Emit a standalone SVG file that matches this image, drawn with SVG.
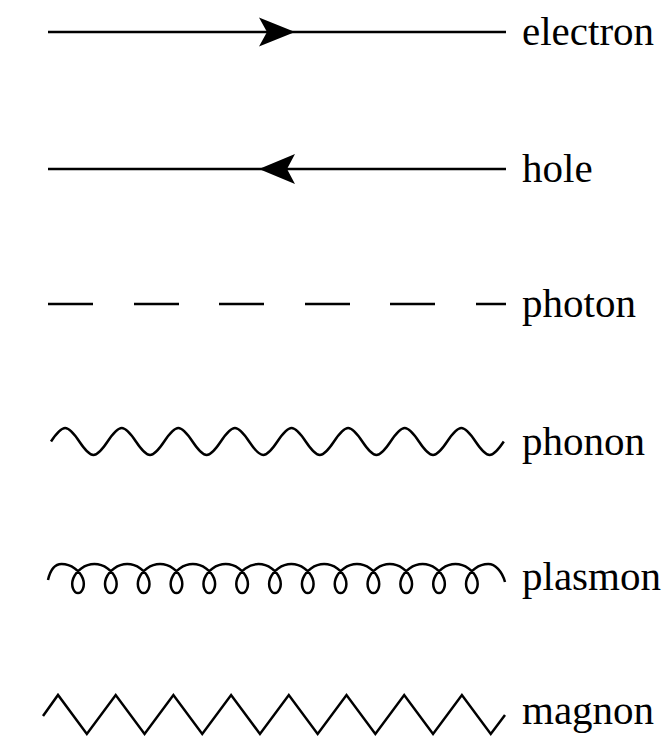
<svg xmlns="http://www.w3.org/2000/svg" width="671" height="737" viewBox="0 0 671 737">
<style>
.ln{fill:none;stroke:#000;stroke-width:2.5;stroke-linejoin:miter;stroke-linecap:butt}
.ar{fill:#000;stroke:none}
.lb{font-family:"Liberation Serif","Times New Roman",serif;font-size:41px;fill:#000}
</style>
<rect width="671" height="737" fill="#fff"/>
<g id="electron">
<line class="ln" x1="48" y1="32" x2="506" y2="32"/>
<path class="ar" d="M295,32 L259,17.5 L267,32 L259,46.5 Z"/>
<text class="lb" x="522" y="45">electron</text>
</g>
<g id="hole">
<line class="ln" x1="48" y1="169" x2="506" y2="169"/>
<path class="ar" d="M259,169 L295,154 L287,169 L295,184 Z"/>
<text class="lb" x="522" y="182">hole</text>
</g>
<g id="photon">
<path class="ln" d="M48,304H93M134,304H179M219,304H264M305,304H350M390,304H435M476,304H506"/>
<text class="lb" x="522" y="317">photon</text>
</g>
<g id="phonon">
<path class="ln" d="M51,441.5
c4.72,-7.07 9.43,-13.5 14.15,-13.5 c4.72,0 9.43,6.43 14.15,13.5 c4.72,7.07 9.43,13.5 14.15,13.5 c4.72,0 9.43,-6.43 14.15,-13.5
c4.72,-7.07 9.43,-13.5 14.15,-13.5 c4.72,0 9.43,6.43 14.15,13.5 c4.72,7.07 9.43,13.5 14.15,13.5 c4.72,0 9.43,-6.43 14.15,-13.5
c4.72,-7.07 9.43,-13.5 14.15,-13.5 c4.72,0 9.43,6.43 14.15,13.5 c4.72,7.07 9.43,13.5 14.15,13.5 c4.72,0 9.43,-6.43 14.15,-13.5
c4.72,-7.07 9.43,-13.5 14.15,-13.5 c4.72,0 9.43,6.43 14.15,13.5 c4.72,7.07 9.43,13.5 14.15,13.5 c4.72,0 9.43,-6.43 14.15,-13.5
c4.72,-7.07 9.43,-13.5 14.15,-13.5 c4.72,0 9.43,6.43 14.15,13.5 c4.72,7.07 9.43,13.5 14.15,13.5 c4.72,0 9.43,-6.43 14.15,-13.5
c4.72,-7.07 9.43,-13.5 14.15,-13.5 c4.72,0 9.43,6.43 14.15,13.5 c4.72,7.07 9.43,13.5 14.15,13.5 c4.72,0 9.43,-6.43 14.15,-13.5
c4.72,-7.07 9.43,-13.5 14.15,-13.5 c4.72,0 9.43,6.43 14.15,13.5 c4.72,7.07 9.43,13.5 14.15,13.5 c4.72,0 9.43,-6.43 14.15,-13.5
c4.72,-7.07 9.43,-13.5 14.15,-13.5 c4.72,0 9.43,6.43 14.15,13.5 c4.72,7.07 9.43,13.5 14.15,13.5 c4.72,0 9.43,-6.43 14.15,-13.5"/>
<text class="lb" x="522" y="455">phonon</text>
</g>
<g id="plasmon">
<path class="ln" d="M48,580 C50.5,569 55,564 61.6,564
c9.54,0 18.47,6.91 21.21,14.5 c2.74,7.59 -0.72,14.5 -4.8,14.5 c-4.07,0 -7.53,-6.91 -4.8,-14.5 c2.74,-7.59 11.67,-14.5 21.21,-14.5
c9.54,0 18.47,6.91 21.21,14.5 c2.74,7.59 -0.72,14.5 -4.8,14.5 c-4.07,0 -7.53,-6.91 -4.8,-14.5 c2.74,-7.59 11.67,-14.5 21.21,-14.5
c9.54,0 18.47,6.91 21.21,14.5 c2.74,7.59 -0.72,14.5 -4.8,14.5 c-4.07,0 -7.53,-6.91 -4.8,-14.5 c2.74,-7.59 11.67,-14.5 21.21,-14.5
c9.54,0 18.47,6.91 21.21,14.5 c2.74,7.59 -0.72,14.5 -4.8,14.5 c-4.07,0 -7.53,-6.91 -4.8,-14.5 c2.74,-7.59 11.67,-14.5 21.21,-14.5
c9.54,0 18.47,6.91 21.21,14.5 c2.74,7.59 -0.72,14.5 -4.8,14.5 c-4.07,0 -7.53,-6.91 -4.8,-14.5 c2.74,-7.59 11.67,-14.5 21.21,-14.5
c9.54,0 18.47,6.91 21.21,14.5 c2.74,7.59 -0.72,14.5 -4.8,14.5 c-4.07,0 -7.53,-6.91 -4.8,-14.5 c2.74,-7.59 11.67,-14.5 21.21,-14.5
c9.54,0 18.47,6.91 21.21,14.5 c2.74,7.59 -0.72,14.5 -4.8,14.5 c-4.07,0 -7.53,-6.91 -4.8,-14.5 c2.74,-7.59 11.67,-14.5 21.21,-14.5
c9.54,0 18.47,6.91 21.21,14.5 c2.74,7.59 -0.72,14.5 -4.8,14.5 c-4.07,0 -7.53,-6.91 -4.8,-14.5 c2.74,-7.59 11.67,-14.5 21.21,-14.5
c9.54,0 18.47,6.91 21.21,14.5 c2.74,7.59 -0.72,14.5 -4.8,14.5 c-4.07,0 -7.53,-6.91 -4.8,-14.5 c2.74,-7.59 11.67,-14.5 21.21,-14.5
c9.54,0 18.47,6.91 21.21,14.5 c2.74,7.59 -0.72,14.5 -4.8,14.5 c-4.07,0 -7.53,-6.91 -4.8,-14.5 c2.74,-7.59 11.67,-14.5 21.21,-14.5
c9.54,0 18.47,6.91 21.21,14.5 c2.74,7.59 -0.72,14.5 -4.8,14.5 c-4.07,0 -7.53,-6.91 -4.8,-14.5 c2.74,-7.59 11.67,-14.5 21.21,-14.5
c9.54,0 18.47,6.91 21.21,14.5 c2.74,7.59 -0.72,14.5 -4.8,14.5 c-4.07,0 -7.53,-6.91 -4.8,-14.5 c2.74,-7.59 11.67,-14.5 21.21,-14.5
c9.54,0 18.47,6.91 21.21,14.5 c2.74,7.59 -0.72,14.5 -4.8,14.5 c-4.07,0 -7.53,-6.91 -4.8,-14.5 c2.74,-7.59 11.67,-14.5 21.21,-14.5
C495,564 502,571 505,582"/>
<text class="lb" x="522" y="590">plasmon</text>
</g>
<g id="magnon">
<polyline class="ln" points="43,716 58,695 86.85,734 115.7,695 144.55,734 173.4,695 202.25,734 231.1,695 259.95,734 288.8,695 317.65,734 346.5,695 375.35,734 404.2,695 433.05,734 461.9,695 490.75,734 505,715"/>
<text class="lb" x="522" y="724">magnon</text>
</g>
</svg>
